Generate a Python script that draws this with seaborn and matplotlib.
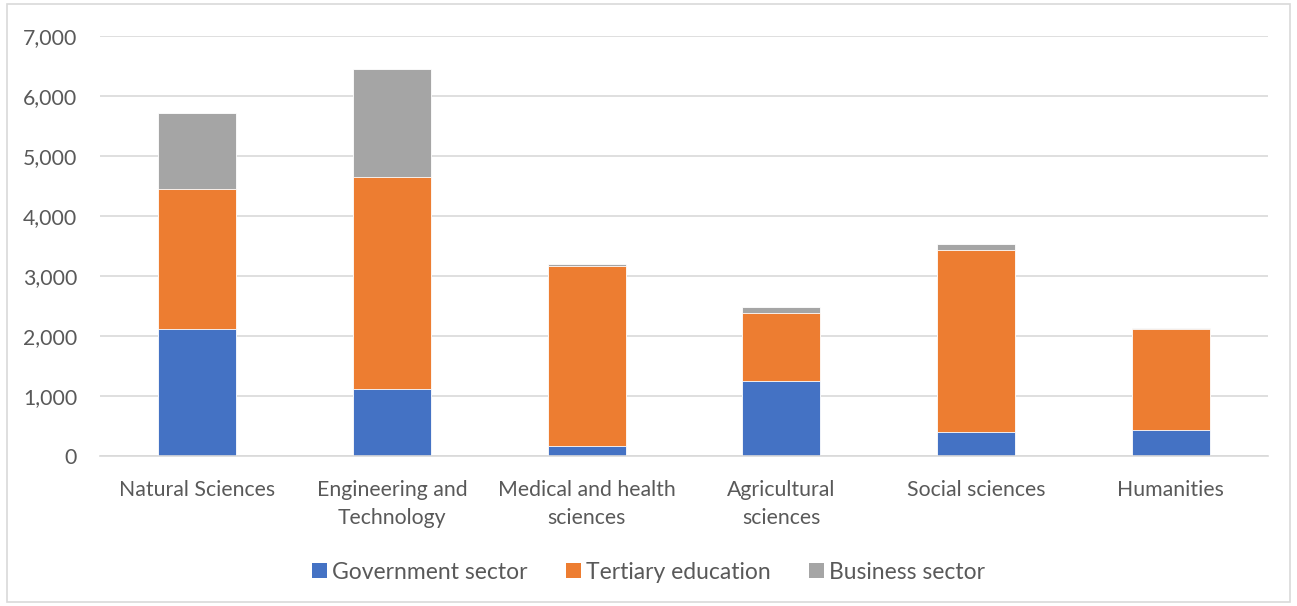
import numpy as np
import pandas as pd
import matplotlib
matplotlib.use("Agg")
import matplotlib.pyplot as plt
import matplotlib.ticker as mticker
from matplotlib.patches import Rectangle, Patch
import seaborn as sns

# values
fields = ["Natural Sciences", "Engineering and\nTechnology", "Medical and health\nsciences",
          "Agricultural\nsciences", "Social sciences", "Humanities"]
government = [2123, 1123, 173, 1257, 395, 433]
tertiary = [2322, 3522, 2994, 1121, 3033, 1690]
business = [1267, 1805, 28, 112, 112, 5]

series_names = ["Government sector", "Tertiary education", "Business sector"]
colors = ["#4472C4", "#ED7D31", "#A5A5A5"]

sns.set_style("white")
plt.rcParams["font.family"] = ["Lato", "DejaVu Sans"]
text_color = "#595959"
grid_color = "#D9D9D9"

df = pd.DataFrame({"field": fields, "gov": government, "tert": tertiary, "bus": business})
df["gov_top"] = df["gov"]
df["tert_top"] = df["gov"] + df["tert"]
df["bus_top"] = df["tert_top"] + df["bus"]

fig = plt.figure(figsize=(12.97, 6.06), dpi=100)
ax = fig.add_axes([100 / 1297, 1 - 456 / 606, 1168 / 1297, 420 / 606])

# stacked bars: draw cumulative totals from the top down
for col, color in zip(["bus_top", "tert_top", "gov_top"], colors[::-1]):
    sns.barplot(data=df, x="field", y=col, color=color, width=0.4, ax=ax,
                edgecolor="white", linewidth=0.6, saturation=1)

ax.set_xlim(-0.5, len(fields) - 0.5)
ax.set_ylim(0, 7000)
ax.yaxis.set_major_locator(mticker.MultipleLocator(1000))
ax.yaxis.set_major_formatter(mticker.FuncFormatter(lambda v, p: f"{int(v):,}"))
ax.set_xlabel("")
ax.set_ylabel("")
ax.grid(axis="y", color=grid_color, linewidth=1.2)
ax.set_axisbelow(True)
for side in ["top", "right", "left"]:
    ax.spines[side].set_visible(False)
ax.spines["bottom"].set_color(grid_color)
ax.spines["bottom"].set_linewidth(1.2)
ax.tick_params(axis="y", length=0, pad=16.5, labelsize=15.3, labelcolor=text_color)
ax.tick_params(axis="x", length=0, pad=17.5, labelsize=15.3, labelcolor=text_color)
for lbl in ax.get_xticklabels():
    lbl.set_linespacing(1.5)

handles = [Patch(facecolor=c, edgecolor="none") for c in colors]
fig.legend(handles, series_names, loc="center", bbox_to_anchor=(0.5, 0.056), ncol=3,
           frameon=False, fontsize=16.5, labelcolor=text_color, handlelength=0.65,
           handleheight=0.65, handletextpad=0.2, columnspacing=1.7)

# light chart border
fig.patches.append(Rectangle((7 / 1297, 4 / 606), 1283 / 1297, 598 / 606, transform=fig.transFigure,
                             fill=False, edgecolor=grid_color, linewidth=1.2))

fig.savefig("out.png", dpi=100)
